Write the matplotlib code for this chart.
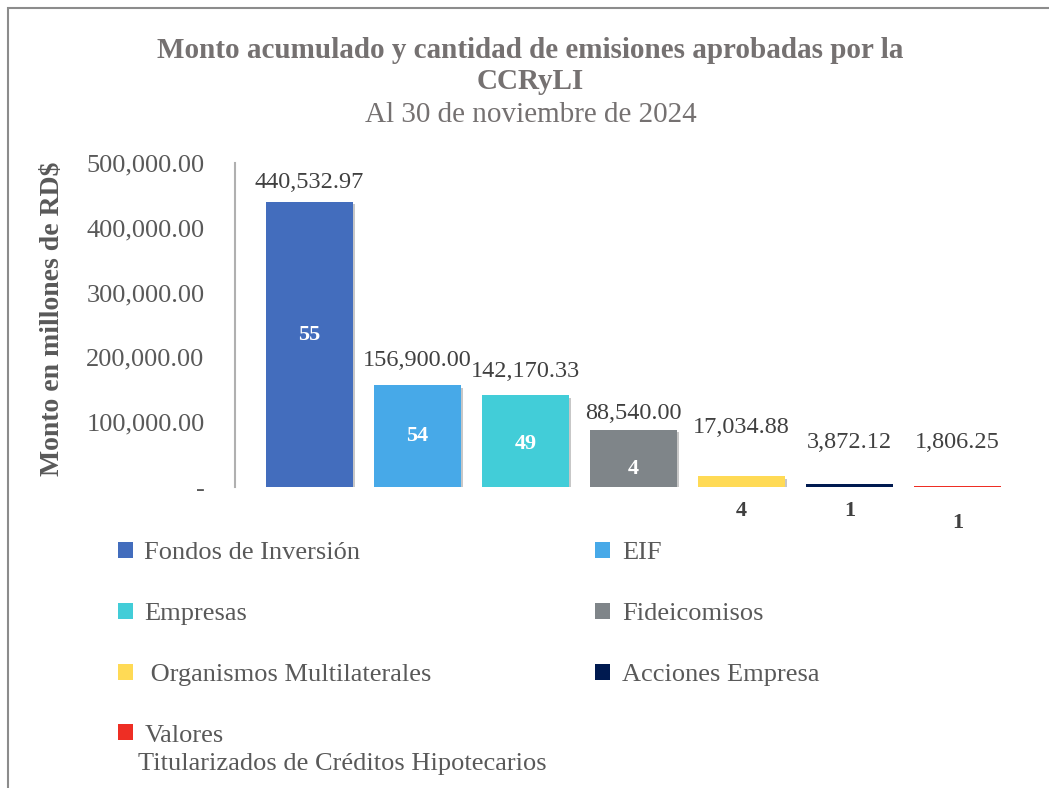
import matplotlib
matplotlib.use("Agg")
import matplotlib.pyplot as plt
from matplotlib.patches import Rectangle, Patch
import matplotlib.patheffects as pe
from matplotlib.ticker import FuncFormatter

categories = ["Fondos de Inversión", "EIF", "Empresas", "Fideicomisos",
              " Organismos Multilaterales", "Acciones Empresa", "Valores"]
montos = [440532.97, 156900.00, 142170.33, 88540.00, 17034.88, 3872.12, 1806.25]
cantidades = [55, 54, 49, 4, 4, 1, 1]
colors = ["#436DBD", "#47A9E8", "#42CDD8", "#7F8589", "#FFDA55", "#001A50", "#EE2E24"]
yticks = [0, 100000, 200000, 300000, 400000, 500000]

plt.rcParams['font.family'] = ['Liberation Serif', 'DejaVu Serif']

fig = plt.figure(figsize=(10.49, 7.88), dpi=100)
W, H = 1049, 788
ax = fig.add_axes([235 / W, 1 - 487 / H, (1032 - 235) / W, (487 - 163) / H])

x = list(range(len(categories)))
bars = ax.bar(x, montos, width=0.8, color=colors, zorder=3,
              path_effects=[pe.SimplePatchShadow(offset=(2, -2), alpha=0.22, shadow_rgbFace='black'),
                            pe.Normal()])

ax.set_xlim(-0.69, 6.69)
ax.set_ylim(0, 500000)
ax.set_yticks(yticks)
ax.yaxis.set_major_formatter(FuncFormatter(lambda v, p: "-" if v == 0 else f"{v:,.2f}"))
ax.tick_params(axis='y', length=0, pad=22, labelsize=19, labelcolor='#595959')
ax.set_xticks([])
for s in ['top', 'right', 'bottom']:
    ax.spines[s].set_visible(False)
ax.spines['left'].set_color('#b0b0b0')
ax.spines['left'].set_linewidth(1.5)

ax.set_ylabel("Monto en millones de RD$", fontsize=20, fontweight='bold', color='#595959')
ax.yaxis.set_label_coords(-(235 - 65) / (1032 - 235), (487 - 319) / (487 - 163))

# value labels
val_offsets = [6, 10.5, 9.5, 4, 27.5, 23, 23.5]
for i, (v, off) in enumerate(zip(montos, val_offsets)):
    ax.annotate(f"{v:,.2f}", xy=(i, v), xytext=(0, off), textcoords='offset points',
                ha='center', va='bottom', fontsize=17.5, color='#404040')

# count labels
in_offsets = [7, 0, -2, -8]
for i, (v, c) in enumerate(zip(montos, cantidades)):
    if v > 50000:
        ax.annotate(str(c), xy=(i, v / 2), xytext=(0, in_offsets[i]), textcoords='offset points',
                    ha='center', va='center', fontsize=16, fontweight='bold', color='white', zorder=4)
    else:
        ax.annotate(str(c), xy=(i, 0), xytext=(0, -17 if i < 6 else -26), textcoords='offset points',
                    ha='center', va='center', fontsize=16, fontweight='bold', color='#404040',
                    annotation_clip=False)

# title
fig.text(0.5 + 6 / W, 1 - 66 / H, "Monto acumulado y cantidad de emisiones aprobadas por la\nCCRyLI",
         ha='center', va='center', fontsize=21, fontweight='bold', color='#757171', linespacing=1.2)
fig.text(0.5 + 6 / W, 1 - 115 / H, "Al 30 de noviembre de 2024", ha='center', va='center',
         fontsize=21, color='#757171')

# legend (row-wise order via column fill)
order = [0, 2, 4, 6, 1, 3, 5]
handles = [Patch(facecolor=colors[k], edgecolor='none') for k in order]
labels = [categories[k] for k in order]
leg = fig.legend(handles, labels, loc='upper left', bbox_to_anchor=(118 / W, 1 - 542 / H),
                 ncol=2, frameon=False, fontsize=19, labelcolor='#595959',
                 handlelength=0.55, handleheight=0.55, handletextpad=0.45,
                 labelspacing=1.46, columnspacing=6.2, borderpad=0, borderaxespad=0)

fig.canvas.draw()
r = fig.canvas.get_renderer()
vt = leg.get_texts()[3]
bb = vt.get_window_extent(r)
fig.text((bb.x0 - 6) / W, (bb.y0 - 6) / H, "Titularizados de Créditos Hipotecarios",
         ha='left', va='top', fontsize=19, color='#595959')

# frame
fig.patches.append(Rectangle((8 / W, -0.1), 1.2, 1 - 8 / H + 0.1, transform=fig.transFigure,
                             fill=False, edgecolor='#8c8c8c', linewidth=1.5))

fig.savefig("out.png", dpi=100)
